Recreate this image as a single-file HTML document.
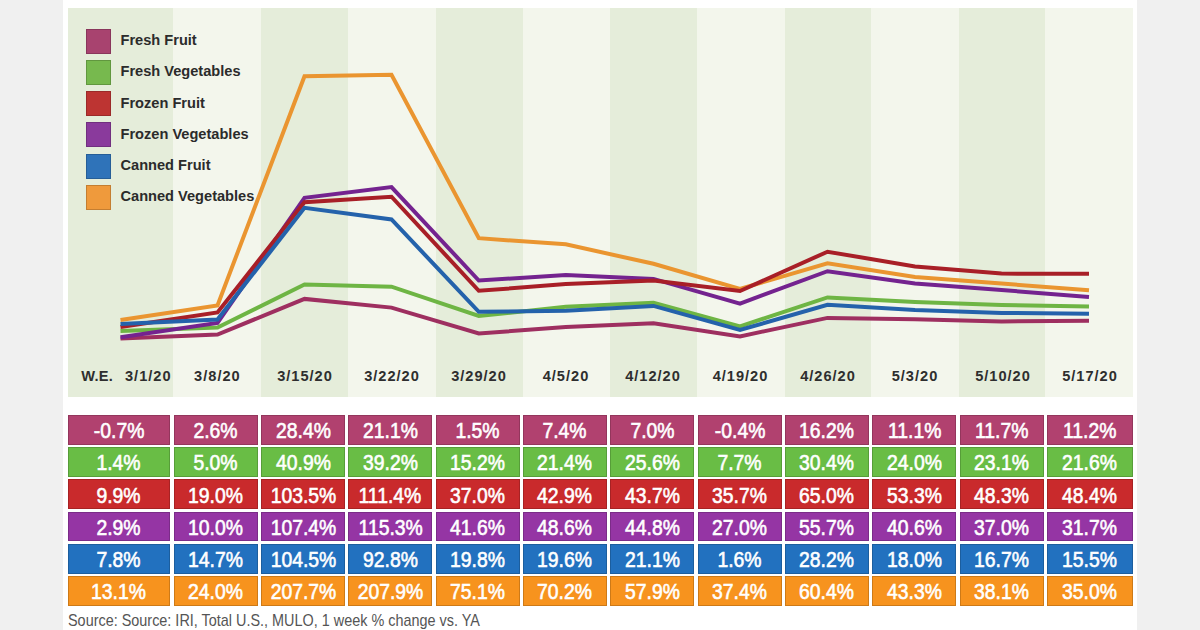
<!DOCTYPE html>
<html><head><meta charset="utf-8">
<style>
html,body{margin:0;padding:0;}
body{width:1200px;height:630px;position:relative;overflow:hidden;background:#f0f0f0;font-family:"Liberation Sans",sans-serif;}
.panel{position:absolute;left:63px;top:0;width:1074px;height:630px;background:#fff;}
.s{position:absolute;top:8px;height:388.5px;}
.d{background:#e5edda;}
.l{background:#f3f6ec;}
.sq{position:absolute;left:86px;width:25px;height:25px;box-sizing:border-box;}
.lg{position:absolute;left:120.5px;font-weight:bold;font-size:14.6px;color:#2b2b2b;white-space:nowrap;letter-spacing:0px;}
.dt{position:absolute;top:367.5px;font-weight:bold;font-size:14.6px;color:#2e2e2e;white-space:nowrap;text-align:center;width:100px;letter-spacing:1px;}
.c{position:absolute;color:#fff;font-size:21.5px;text-align:center;line-height:29.6px;box-sizing:border-box;border:1px solid rgba(0,0,0,0.17);}
.c span{display:inline-block;transform:scaleX(0.9);-webkit-text-stroke:0.6px #fff;position:relative;top:1.2px;}
.src{position:absolute;left:68px;top:610.5px;font-size:17px;color:#555;white-space:nowrap;transform-origin:0 0;transform:scaleX(0.848);}
</style></head><body>
<div class="panel"></div>

<div class="s d" style="left:67.50px;width:105.80px"></div>
<div class="s l" style="left:173.30px;width:87.90px"></div>
<div class="s d" style="left:261.20px;width:86.80px"></div>
<div class="s l" style="left:348.00px;width:87.50px"></div>
<div class="s d" style="left:435.50px;width:87.00px"></div>
<div class="s l" style="left:522.50px;width:87.00px"></div>
<div class="s d" style="left:609.50px;width:87.50px"></div>
<div class="s l" style="left:697.00px;width:88.00px"></div>
<div class="s d" style="left:785.00px;width:85.80px"></div>
<div class="s l" style="left:870.80px;width:88.50px"></div>
<div class="s d" style="left:959.30px;width:85.70px"></div>
<div class="s l" style="left:1045.00px;width:88.00px"></div>
<div class="sq" style="top:28.7px;background:#a8436f;border:1px solid rgba(0,0,0,0.18)"></div>
<div class="lg" style="top:32.2px">Fresh Fruit</div>
<div class="sq" style="top:59.9px;background:#77b94e;border:1px solid rgba(0,0,0,0.18)"></div>
<div class="lg" style="top:63.4px">Fresh Vegetables</div>
<div class="sq" style="top:91.1px;background:#bd3432;border:1px solid rgba(0,0,0,0.18)"></div>
<div class="lg" style="top:94.6px">Frozen Fruit</div>
<div class="sq" style="top:122.3px;background:#8a3a9c;border:1px solid rgba(0,0,0,0.18)"></div>
<div class="lg" style="top:125.8px">Frozen Vegetables</div>
<div class="sq" style="top:153.5px;background:#2f73b9;border:1px solid rgba(0,0,0,0.18)"></div>
<div class="lg" style="top:157.0px">Canned Fruit</div>
<div class="sq" style="top:184.7px;background:#ef9a3c;border:1px solid rgba(0,0,0,0.18)"></div>
<div class="lg" style="top:188.2px">Canned Vegetables</div>
<div class="dt" style="left:47.2px;letter-spacing:0.3px">W.E.</div>
<div class="dt" style="left:98.3px">3/1/20</div>
<div class="dt" style="left:167.4px">3/8/20</div>
<div class="dt" style="left:255.0px">3/15/20</div>
<div class="dt" style="left:342.0px">3/22/20</div>
<div class="dt" style="left:429.0px">3/29/20</div>
<div class="dt" style="left:516.0px">4/5/20</div>
<div class="dt" style="left:603.0px">4/12/20</div>
<div class="dt" style="left:690.5px">4/19/20</div>
<div class="dt" style="left:778.0px">4/26/20</div>
<div class="dt" style="left:865.0px">5/3/20</div>
<div class="dt" style="left:953.0px">5/10/20</div>
<div class="dt" style="left:1040.0px">5/17/20</div>
<svg style="position:absolute;left:0;top:0" width="1200" height="630" viewBox="0 0 1200 630">
<polyline points="120.5,338.5 217.5,334.5 304.5,298.9 391.5,307.6 478.8,333.5 565.8,326.9 653.5,323.3 740.0,336.4 827.5,317.9 915.0,319.3 1001.5,321.4 1089.0,320.7" fill="none" stroke="#9e2f60" stroke-width="4" stroke-linejoin="miter" stroke-linecap="butt"/>
<polyline points="120.5,330.9 217.5,327.5 304.5,284.4 391.5,286.7 478.8,316.0 565.8,306.8 653.5,302.7 740.0,326.4 827.5,297.4 915.0,302.1 1001.5,305.0 1089.0,306.5" fill="none" stroke="#6eb544" stroke-width="4" stroke-linejoin="miter" stroke-linecap="butt"/>
<polyline points="120.5,337.2 217.5,323.0 304.5,197.8 391.5,187.1 478.8,280.5 565.8,275.0 653.5,278.9 740.0,303.6 827.5,271.2 915.0,283.6 1001.5,290.0 1089.0,296.9" fill="none" stroke="#74238f" stroke-width="4" stroke-linejoin="miter" stroke-linecap="butt"/>
<polyline points="120.5,320.0 217.5,305.5 304.5,76.2 391.5,74.8 478.8,238.2 565.8,244.3 653.5,263.8 740.0,289.0 827.5,263.3 915.0,277.1 1001.5,283.6 1089.0,290.3" fill="none" stroke="#ea9530" stroke-width="4" stroke-linejoin="miter" stroke-linecap="butt"/>
<polyline points="120.5,327.0 217.5,312.5 304.5,202.2 391.5,196.7 478.8,290.8 565.8,284.1 653.5,280.5 740.0,291.0 827.5,251.7 915.0,266.4 1001.5,273.6 1089.0,273.8" fill="none" stroke="#a81f27" stroke-width="4" stroke-linejoin="miter" stroke-linecap="butt"/>
<polyline points="120.5,323.9 217.5,319.5 304.5,207.8 391.5,219.5 478.8,311.8 565.8,310.7 653.5,305.9 740.0,330.0 827.5,304.8 915.0,310.0 1001.5,312.9 1089.0,313.7" fill="none" stroke="#2462ab" stroke-width="4" stroke-linejoin="miter" stroke-linecap="butt"/>
</svg>
<div class="c" style="left:67.50px;top:415.00px;width:102.90px;height:29.8px;background:#b1416f"><span>-0.7%</span></div>
<div class="c" style="left:173.60px;top:415.00px;width:84.13px;height:29.8px;background:#b1416f"><span>2.6%</span></div>
<div class="c" style="left:260.93px;top:415.00px;width:84.13px;height:29.8px;background:#b1416f"><span>28.4%</span></div>
<div class="c" style="left:348.26px;top:415.00px;width:84.13px;height:29.8px;background:#b1416f"><span>21.1%</span></div>
<div class="c" style="left:435.59px;top:415.00px;width:84.13px;height:29.8px;background:#b1416f"><span>1.5%</span></div>
<div class="c" style="left:522.92px;top:415.00px;width:84.13px;height:29.8px;background:#b1416f"><span>7.4%</span></div>
<div class="c" style="left:610.25px;top:415.00px;width:84.13px;height:29.8px;background:#b1416f"><span>7.0%</span></div>
<div class="c" style="left:697.58px;top:415.00px;width:84.13px;height:29.8px;background:#b1416f"><span>-0.4%</span></div>
<div class="c" style="left:784.91px;top:415.00px;width:84.13px;height:29.8px;background:#b1416f"><span>16.2%</span></div>
<div class="c" style="left:872.24px;top:415.00px;width:84.13px;height:29.8px;background:#b1416f"><span>11.1%</span></div>
<div class="c" style="left:959.57px;top:415.00px;width:84.13px;height:29.8px;background:#b1416f"><span>11.7%</span></div>
<div class="c" style="left:1046.90px;top:415.00px;width:85.80px;height:29.8px;background:#b1416f"><span>11.2%</span></div>
<div class="c" style="left:67.50px;top:447.20px;width:102.90px;height:29.8px;background:#69bd45"><span>1.4%</span></div>
<div class="c" style="left:173.60px;top:447.20px;width:84.13px;height:29.8px;background:#69bd45"><span>5.0%</span></div>
<div class="c" style="left:260.93px;top:447.20px;width:84.13px;height:29.8px;background:#69bd45"><span>40.9%</span></div>
<div class="c" style="left:348.26px;top:447.20px;width:84.13px;height:29.8px;background:#69bd45"><span>39.2%</span></div>
<div class="c" style="left:435.59px;top:447.20px;width:84.13px;height:29.8px;background:#69bd45"><span>15.2%</span></div>
<div class="c" style="left:522.92px;top:447.20px;width:84.13px;height:29.8px;background:#69bd45"><span>21.4%</span></div>
<div class="c" style="left:610.25px;top:447.20px;width:84.13px;height:29.8px;background:#69bd45"><span>25.6%</span></div>
<div class="c" style="left:697.58px;top:447.20px;width:84.13px;height:29.8px;background:#69bd45"><span>7.7%</span></div>
<div class="c" style="left:784.91px;top:447.20px;width:84.13px;height:29.8px;background:#69bd45"><span>30.4%</span></div>
<div class="c" style="left:872.24px;top:447.20px;width:84.13px;height:29.8px;background:#69bd45"><span>24.0%</span></div>
<div class="c" style="left:959.57px;top:447.20px;width:84.13px;height:29.8px;background:#69bd45"><span>23.1%</span></div>
<div class="c" style="left:1046.90px;top:447.20px;width:85.80px;height:29.8px;background:#69bd45"><span>21.6%</span></div>
<div class="c" style="left:67.50px;top:479.40px;width:102.90px;height:29.8px;background:#c92a2c"><span>9.9%</span></div>
<div class="c" style="left:173.60px;top:479.40px;width:84.13px;height:29.8px;background:#c92a2c"><span>19.0%</span></div>
<div class="c" style="left:260.93px;top:479.40px;width:84.13px;height:29.8px;background:#c92a2c"><span>103.5%</span></div>
<div class="c" style="left:348.26px;top:479.40px;width:84.13px;height:29.8px;background:#c92a2c"><span>111.4%</span></div>
<div class="c" style="left:435.59px;top:479.40px;width:84.13px;height:29.8px;background:#c92a2c"><span>37.0%</span></div>
<div class="c" style="left:522.92px;top:479.40px;width:84.13px;height:29.8px;background:#c92a2c"><span>42.9%</span></div>
<div class="c" style="left:610.25px;top:479.40px;width:84.13px;height:29.8px;background:#c92a2c"><span>43.7%</span></div>
<div class="c" style="left:697.58px;top:479.40px;width:84.13px;height:29.8px;background:#c92a2c"><span>35.7%</span></div>
<div class="c" style="left:784.91px;top:479.40px;width:84.13px;height:29.8px;background:#c92a2c"><span>65.0%</span></div>
<div class="c" style="left:872.24px;top:479.40px;width:84.13px;height:29.8px;background:#c92a2c"><span>53.3%</span></div>
<div class="c" style="left:959.57px;top:479.40px;width:84.13px;height:29.8px;background:#c92a2c"><span>48.3%</span></div>
<div class="c" style="left:1046.90px;top:479.40px;width:85.80px;height:29.8px;background:#c92a2c"><span>48.4%</span></div>
<div class="c" style="left:67.50px;top:511.60px;width:102.90px;height:29.8px;background:#9535a4"><span>2.9%</span></div>
<div class="c" style="left:173.60px;top:511.60px;width:84.13px;height:29.8px;background:#9535a4"><span>10.0%</span></div>
<div class="c" style="left:260.93px;top:511.60px;width:84.13px;height:29.8px;background:#9535a4"><span>107.4%</span></div>
<div class="c" style="left:348.26px;top:511.60px;width:84.13px;height:29.8px;background:#9535a4"><span>115.3%</span></div>
<div class="c" style="left:435.59px;top:511.60px;width:84.13px;height:29.8px;background:#9535a4"><span>41.6%</span></div>
<div class="c" style="left:522.92px;top:511.60px;width:84.13px;height:29.8px;background:#9535a4"><span>48.6%</span></div>
<div class="c" style="left:610.25px;top:511.60px;width:84.13px;height:29.8px;background:#9535a4"><span>44.8%</span></div>
<div class="c" style="left:697.58px;top:511.60px;width:84.13px;height:29.8px;background:#9535a4"><span>27.0%</span></div>
<div class="c" style="left:784.91px;top:511.60px;width:84.13px;height:29.8px;background:#9535a4"><span>55.7%</span></div>
<div class="c" style="left:872.24px;top:511.60px;width:84.13px;height:29.8px;background:#9535a4"><span>40.6%</span></div>
<div class="c" style="left:959.57px;top:511.60px;width:84.13px;height:29.8px;background:#9535a4"><span>37.0%</span></div>
<div class="c" style="left:1046.90px;top:511.60px;width:85.80px;height:29.8px;background:#9535a4"><span>31.7%</span></div>
<div class="c" style="left:67.50px;top:543.80px;width:102.90px;height:29.8px;background:#2271bf"><span>7.8%</span></div>
<div class="c" style="left:173.60px;top:543.80px;width:84.13px;height:29.8px;background:#2271bf"><span>14.7%</span></div>
<div class="c" style="left:260.93px;top:543.80px;width:84.13px;height:29.8px;background:#2271bf"><span>104.5%</span></div>
<div class="c" style="left:348.26px;top:543.80px;width:84.13px;height:29.8px;background:#2271bf"><span>92.8%</span></div>
<div class="c" style="left:435.59px;top:543.80px;width:84.13px;height:29.8px;background:#2271bf"><span>19.8%</span></div>
<div class="c" style="left:522.92px;top:543.80px;width:84.13px;height:29.8px;background:#2271bf"><span>19.6%</span></div>
<div class="c" style="left:610.25px;top:543.80px;width:84.13px;height:29.8px;background:#2271bf"><span>21.1%</span></div>
<div class="c" style="left:697.58px;top:543.80px;width:84.13px;height:29.8px;background:#2271bf"><span>1.6%</span></div>
<div class="c" style="left:784.91px;top:543.80px;width:84.13px;height:29.8px;background:#2271bf"><span>28.2%</span></div>
<div class="c" style="left:872.24px;top:543.80px;width:84.13px;height:29.8px;background:#2271bf"><span>18.0%</span></div>
<div class="c" style="left:959.57px;top:543.80px;width:84.13px;height:29.8px;background:#2271bf"><span>16.7%</span></div>
<div class="c" style="left:1046.90px;top:543.80px;width:85.80px;height:29.8px;background:#2271bf"><span>15.5%</span></div>
<div class="c" style="left:67.50px;top:576.00px;width:102.90px;height:30.3px;background:#f7931e"><span>13.1%</span></div>
<div class="c" style="left:173.60px;top:576.00px;width:84.13px;height:30.3px;background:#f7931e"><span>24.0%</span></div>
<div class="c" style="left:260.93px;top:576.00px;width:84.13px;height:30.3px;background:#f7931e"><span>207.7%</span></div>
<div class="c" style="left:348.26px;top:576.00px;width:84.13px;height:30.3px;background:#f7931e"><span>207.9%</span></div>
<div class="c" style="left:435.59px;top:576.00px;width:84.13px;height:30.3px;background:#f7931e"><span>75.1%</span></div>
<div class="c" style="left:522.92px;top:576.00px;width:84.13px;height:30.3px;background:#f7931e"><span>70.2%</span></div>
<div class="c" style="left:610.25px;top:576.00px;width:84.13px;height:30.3px;background:#f7931e"><span>57.9%</span></div>
<div class="c" style="left:697.58px;top:576.00px;width:84.13px;height:30.3px;background:#f7931e"><span>37.4%</span></div>
<div class="c" style="left:784.91px;top:576.00px;width:84.13px;height:30.3px;background:#f7931e"><span>60.4%</span></div>
<div class="c" style="left:872.24px;top:576.00px;width:84.13px;height:30.3px;background:#f7931e"><span>43.3%</span></div>
<div class="c" style="left:959.57px;top:576.00px;width:84.13px;height:30.3px;background:#f7931e"><span>38.1%</span></div>
<div class="c" style="left:1046.90px;top:576.00px;width:85.80px;height:30.3px;background:#f7931e"><span>35.0%</span></div>
<div class="src">Source: Source: IRI, Total U.S., MULO, 1 week % change vs. YA</div>
</body></html>
